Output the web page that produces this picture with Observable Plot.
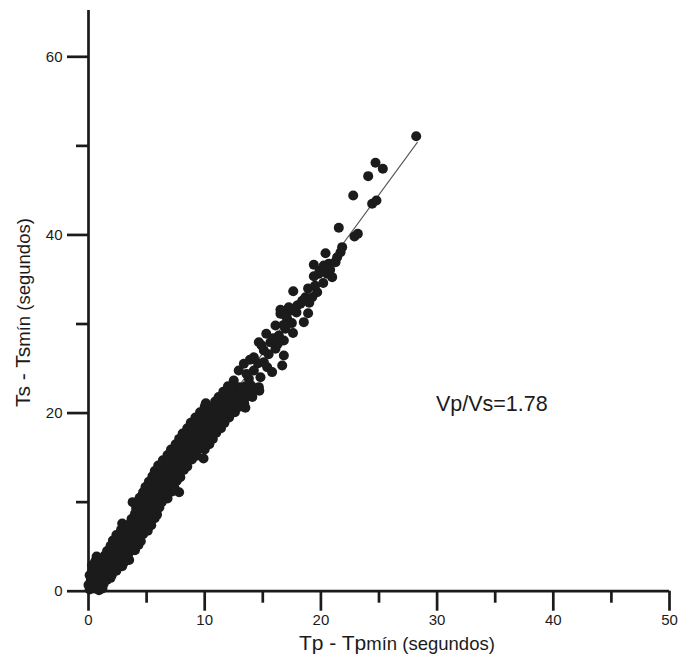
<!DOCTYPE html>
<html><head><meta charset="utf-8">
<script src="https://cdn.jsdelivr.net/npm/d3@7"></script>
<script src="https://cdn.jsdelivr.net/npm/@observablehq/plot@0.6"></script>
<style>
html,body{margin:0;padding:0;background:#fff;}
#chart svg{display:block;}
</style></head><body><div id="chart"></div>
<script>
// Tick values
const xMajorTicks = [0, 10, 20, 30, 40, 50];
const xMinorTicks = [5, 15, 25, 35, 45];
const yMajorTicks = [0, 20, 40, 60];
const yMinorTicks = [10, 30, 50];

// [Tp - Tpmin, Ts - Tsmin]: dense lower band
const denseBand = [
  [0.1,0.2],[0.5,0.3],[0.9,0.1],[1.2,0.3],
  [0.0,0.7],[0.4,0.8],[0.8,0.6],[1.3,0.8],
  [0.2,1.2],[0.6,1.3],[1.1,1.1],[1.6,1.3],[1.9,1.5],
  [0.1,1.8],[0.5,1.9],[1.0,1.7],[1.5,1.9],[2.0,1.8],
  [0.3,2.3],[0.8,2.4],[1.3,2.2],[1.8,2.4],[2.4,2.3],
  [0.3,2.9],[0.9,2.8],[1.4,3.0],[1.9,2.9],[2.4,3.0],[2.9,2.8],
  [0.6,3.4],[1.1,3.5],[1.6,3.3],[2.1,3.5],[2.6,3.4],[3.1,3.3],[3.5,3.5],
  [0.7,3.9],[1.4,4.0],[1.9,3.9],[2.4,4.0],[2.9,3.9],[3.4,4.1],
  [1.6,4.5],[2.1,4.6],[2.6,4.4],[3.1,4.6],[3.6,4.5],[4.0,4.6],
  [1.9,5.1],[2.4,5.0],[2.9,5.2],[3.4,5.1],[3.9,5.0],[4.3,5.2],
  [2.1,5.7],[2.6,5.8],[3.1,5.6],[3.6,5.8],[4.1,5.7],[4.5,5.6],
  [2.4,6.3],[2.9,6.2],[3.4,6.4],[3.9,6.3],[4.4,6.2],[4.7,6.4],
  [2.8,6.9],[3.3,7.0],[3.8,6.8],[4.3,7.0],[4.8,6.9],[5.1,6.8],
  [2.9,7.6],[3.5,7.5],[4.0,7.4],[4.5,7.6],[5.0,7.5],[5.4,7.4],
  [3.7,8.1],[4.2,8.2],[4.7,8.0],[5.2,8.1],[5.7,8.2],
  [4.0,8.7],[4.5,8.6],[5.0,8.8],[5.5,8.7],[5.9,8.6],
  [4.1,9.3],[4.6,9.4],[5.1,9.2],[5.6,9.3],[6.1,9.4],
  [3.8,10.0],[4.3,9.9],[4.8,10.0],[5.3,9.8],[5.8,9.9],[6.3,10.0],
  [4.4,10.5],[4.9,10.6],[5.4,10.4],[5.9,10.5],[6.4,10.6],[6.8,10.4],
  [4.7,11.1],[5.2,11.0],[5.7,11.2],[6.2,11.1],[6.7,11.0],[7.2,11.2],[7.8,11.1],
  [4.9,11.7],[5.4,11.8],[5.9,11.6],[6.4,11.7],[6.9,11.8],[7.4,11.6],
  [5.2,12.3],[5.7,12.2],[6.2,12.4],[6.7,12.3],[7.2,12.2],[7.6,12.4],
  [5.5,12.9],[6.0,13.0],[6.5,12.8],[7.0,12.9],[7.5,13.0],[7.9,12.8],
  [5.7,13.5],[6.2,13.4],[6.7,13.6],[7.2,13.5],[7.7,13.4],[8.2,13.6],
  [6.0,14.1],[6.5,14.2],[7.0,14.0],[7.5,14.1],[8.0,14.2],[8.5,14.0],
  [6.4,14.7],[6.9,14.6],[7.4,14.8],[7.9,14.7],[8.4,14.6],[8.9,14.8],[9.9,14.9],
  [6.8,15.3],[7.3,15.4],[7.8,15.2],[8.3,15.3],[8.8,15.4],[9.3,15.2],
  [7.1,15.9],[7.6,15.8],[8.1,16.0],[8.6,15.9],[9.1,15.8],[9.6,16.0],[10.0,15.9],
  [7.5,16.5],[8.0,16.6],[8.5,16.4],[9.0,16.5],[9.5,16.6],[10.0,16.4],[10.4,16.5],
  [7.8,17.1],[8.3,17.0],[8.8,17.2],[9.3,17.1],[9.8,17.0],[10.3,17.2],[10.7,17.1],
  [8.1,17.7],[8.6,17.8],[9.1,17.6],[9.6,17.7],[10.1,17.8],[10.6,17.6],[11.0,17.8],
  [8.5,18.3],[9.0,18.2],[9.5,18.4],[10.0,18.3],[10.5,18.2],[11.0,18.4],[11.4,18.3],
  [8.8,18.9],[9.3,19.0],[9.8,18.8],[10.3,18.9],[10.8,19.0],[11.3,18.8],[11.7,18.9],
  [9.2,19.5],[9.7,19.4],[10.2,19.6],[10.7,19.5],[11.2,19.4],[11.7,19.6],[12.1,19.5],
  [9.6,20.1],[10.1,20.2],[10.6,20.0],[11.1,20.1],[11.6,20.2],[12.1,20.0],[12.6,20.1],
  [10.0,20.7],[10.5,20.6],[11.0,20.8],[11.5,20.7],[12.0,20.6],[12.5,20.8],[13.0,20.7],[13.5,20.6],
  [10.1,21.1],[10.9,21.3],[11.4,21.2],[11.9,21.1],[12.4,21.3],[12.9,21.2],[13.4,21.1],
  [11.2,21.8],[11.7,21.7],[12.2,21.9],[12.7,21.8],[13.2,21.7],[13.7,21.9],[14.1,21.8],
  [11.6,22.4],[12.1,22.3],[12.6,22.5],[13.1,22.4],[13.6,22.3],[14.1,22.5],[14.7,22.5],
  [12.0,23.0],[12.5,23.1],[13.0,22.9],[13.5,23.0],[14.0,23.1]
];

// Sparser upper part of the cloud
const upperPoints = [
  [12.50,23.66],[13.80,23.85],[14.80,24.03],[14.66,22.91],[13.08,22.73],
  [12.93,24.78],[14.23,24.78],[15.38,25.15],[13.37,25.53],[15.09,25.71],
  [14.23,26.27],[16.67,25.34],[16.81,26.47],[15.09,27.03],[16.09,27.22],
  [14.66,27.96],[15.66,27.96],[16.81,28.15],[16.38,28.71],[16.09,29.83],
  [16.95,29.46],[17.10,30.59],[18.53,30.21],[16.52,31.15],[17.38,31.52],
  [18.24,32.27],[17.24,31.89],[16.52,31.60],[17.96,32.08],[18.67,33.01],
  [19.25,33.01],[19.68,33.57],[17.62,33.68],[19.82,35.64],[19.39,35.37],
  [20.97,35.26],[20.54,35.64],[19.39,36.65],[20.25,36.57],[20.68,36.76],
  [21.26,36.94],[20.40,37.95],[21.69,38.06],[21.83,38.63],[22.89,39.83],
  [23.18,40.13],[21.54,40.80],[24.41,43.50],[24.78,43.87],[22.78,44.43],
  [24.07,46.60],[25.33,47.43],[24.70,48.10],[28.20,51.09],
  [13.6,24.4],[14.6,25.6],[15.8,24.6],[13.9,26.0],[15.5,26.6],
  [14.9,27.6],[15.9,28.4],[16.3,27.8],[15.3,28.9],[16.8,29.9],[17.6,29.0],
  [17.5,30.1],[16.9,31.0],[17.9,31.3],[18.9,31.2],[18.4,32.6],[19.0,32.4],
  [18.9,34.0],[19.5,34.3],[20.2,34.6],[19.9,36.0],[20.8,36.1],[21.4,37.5]
];

// Fitted line Ts = 1.78 Tp (end points)
const fitLine = [[0, 0], [28.3, 50.4]];

const annotation = [{tp: 29.9, ts: 21.0, label: "Vp/Vs=1.78"}];
const xTitle = ["Tp - Tp", "mín (segundos)"];
const yTitle = ["Ts - Ts", "mín (segundos)"];

const points = denseBand.concat(upperPoints);
const ink = "#1b1b1b";
const font = "'Liberation Sans', Arial, Helvetica, sans-serif";

const W = 678, H = 659, mL = 88, mR = 9, mT = 10, mB = 68.3;
const frameW = W - mL - mR, frameH = H - mT - mB;
const tw = 2.7;

const chart = Plot.plot({
  width: W,
  height: H,
  marginLeft: mL,
  marginRight: mR,
  marginTop: mT,
  marginBottom: mB,
  x: {domain: [0, 50]},
  y: {domain: [0, 65.2]},
  style: {fontFamily: font, fontSize: "15px", color: ink, background: "white"},
  marks: [
    Plot.ruleX([0], {y1: 0, y2: 65.2, stroke: ink, strokeWidth: tw}),
    Plot.ruleY([0], {x1: 0, x2: 50, stroke: ink, strokeWidth: tw}),
    // tick marks outside the frame
    Plot.tickX(xMajorTicks, {x: d => d, insetTop: frameH, insetBottom: -20, stroke: ink, strokeWidth: tw}),
    Plot.tickX(xMinorTicks, {x: d => d, insetTop: frameH, insetBottom: -12, stroke: ink, strokeWidth: tw}),
    Plot.tickY(yMajorTicks, {y: d => d, insetLeft: -21, insetRight: frameW, stroke: ink, strokeWidth: tw}),
    Plot.tickY(yMinorTicks, {y: d => d, insetLeft: -12, insetRight: frameW, stroke: ink, strokeWidth: tw}),
    // tick labels
    Plot.axisX({ticks: xMajorTicks, tickSize: 0, tickPadding: 23, fontSize: 15, label: null, tickFormat: d => String(d)}),
    Plot.axisY({ticks: yMajorTicks, tickSize: 0, tickPadding: 26, fontSize: 15, label: null, tickFormat: d => String(d)}),
    Plot.line(fitLine, {x: d => d[0], y: d => d[1], stroke: "#555", strokeWidth: 1.1}),
    Plot.dot(points, {x: d => d[0], y: d => d[1], r: 5, fill: ink, stroke: "none"}),
    Plot.text(annotation, {x: "tp", y: "ts", text: "label", textAnchor: "start", fontSize: 21.5, fill: ink})
  ]
});

const svg = d3.select(chart);

const xt = svg.append("text")
  .attr("x", 299).attr("y", 650)
  .attr("text-anchor", "start")
  .attr("fill", ink).attr("font-family", font);
xt.append("tspan").attr("font-size", 21).text(xTitle[0]);
xt.append("tspan").attr("font-size", 18.5).text(xTitle[1]);

const yt = svg.append("text")
  .attr("transform", "translate(30,407) rotate(-90)")
  .attr("text-anchor", "start")
  .attr("fill", ink).attr("font-family", font);
yt.append("tspan").attr("font-size", 21).text(yTitle[0]);
yt.append("tspan").attr("font-size", 18.5).text(yTitle[1]);

document.getElementById("chart").appendChild(chart);
</script>
</body></html>
